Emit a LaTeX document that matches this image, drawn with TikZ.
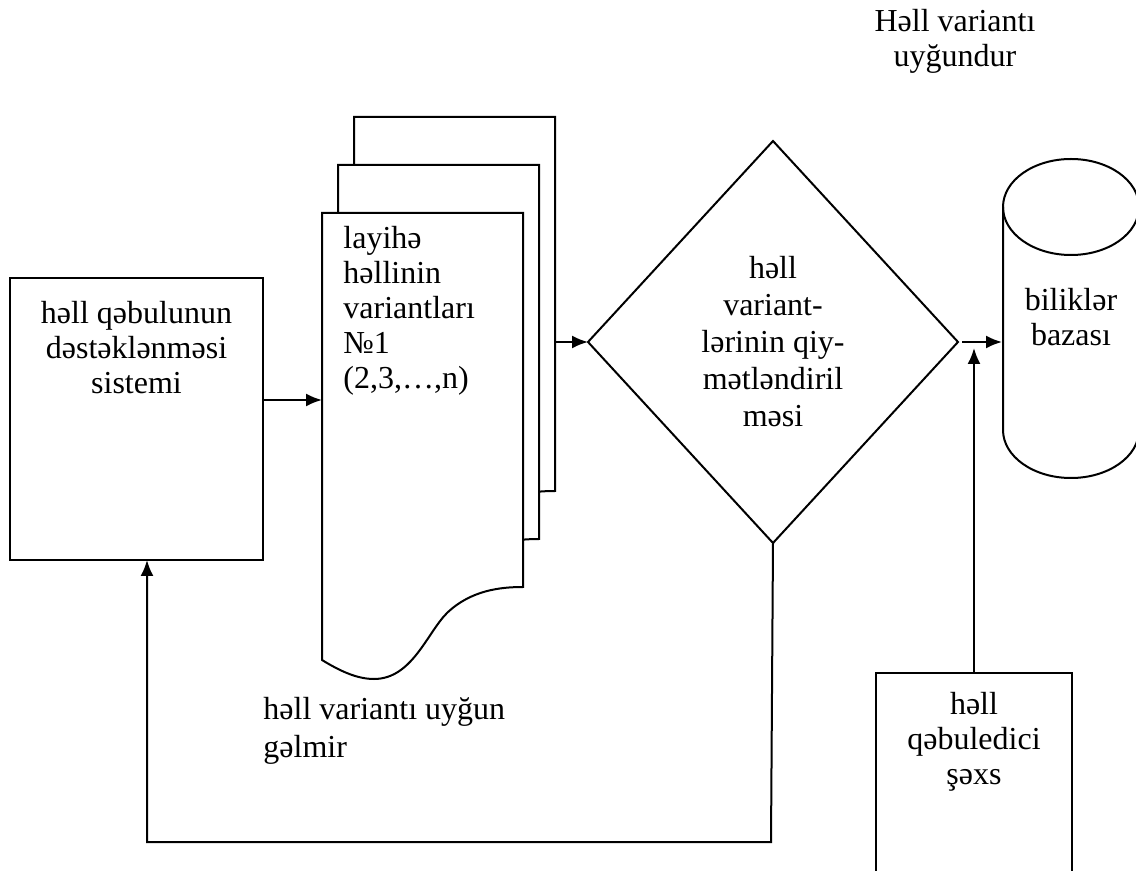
\documentclass[tikz,border=0pt]{standalone}
\usepackage{fontspec}
\setmainfont{Liberation Serif}
\usetikzlibrary{arrows.meta,positioning,shapes.geometric}

\begin{document}
\begin{tikzpicture}[x=0.5pt,y=-0.5pt,>=Latex,
    line/.style={line width=1pt},
    box/.style={draw,line width=1pt,inner sep=0pt,outer sep=0pt},
    doc/.style={line width=1pt,fill=white},
    txt/.style={font=\fontsize{16}{17.5}\selectfont,inner sep=0pt},
    arr/.style={->,line width=1pt,>={Latex[length=8pt,width=6.5pt]}}]
  \useasboundingbox (0,0) rectangle (1136,871);
  % left system box
  \node[box,minimum width=126.5pt,minimum height=141pt] (sys) at (136.5,419) {};
  \node[txt,align=center] (systxt) at (136.5,348) {həll qəbulunun\\dəstəklənməsi\\sistemi};
  % stack of documents
  \foreach \dx/\dy in {32/-96,16/-48,0/0}
    \filldraw[doc,shift={(\dx,\dy)}] (322,213) -- (523,213) -- (523,587)
      .. controls (501,587) and (471,590) .. (447,613)
      .. controls (427,633) and (412,679) .. (374,679)
      .. controls (357,679) and (340,671) .. (322,660) -- cycle;
  \node[txt,align=left,anchor=west] (doctxt) at (343,311) {layihə\\həllinin\\variantları\\№1\\(2,3,…,n)};
  \coordinate (doc-in) at (322,400);
  \coordinate (doc-out) at (556,342);
  % decision
  \node[diamond,draw,line width=1pt,minimum width=185pt,minimum height=201pt,
    inner sep=0pt,outer sep=0pt,align=center,font=\fontsize{16}{18.5}\selectfont] (dec) at (773,342)
    {həll\\variant-\\lərinin qiy-\\mətləndiril\\məsi};
  % knowledge base
  \draw[line] (1003,207) -- (1003,430) arc[start angle=180,end angle=360,x radius=34pt,y radius=24pt] -- (1139,207);
  \draw[line] (1071,207) ellipse [x radius=34pt,y radius=24pt];
  \node[txt,align=center] (kb) at (1071,317) {biliklər\\bazası};
  \coordinate (kb-in) at (1002,342);
  % decision maker
  \node[box,minimum width=98pt,minimum height=113.5pt] (dm) at (974,786.5) {};
  \node[txt,align=center] (dmtxt) at (974,742) {həll\\qəbuledici\\şəxs};
  % labels
  \node[txt,align=center] (ok) at (955,41) {Həll variantı\\uyğundur};
  \node[txt,align=left,anchor=west,font=\fontsize{16}{19}\selectfont] (notok) at (263,731) {həll variantı uyğun\\gəlmir};
  % connectors
  \draw[arr] (sys.east |- doc-in) -- (doc-in);
  \draw[arr] (doc-out) -- (dec.west);
  \draw[arr] ([xshift=2pt]dec.east) -- (kb-in);
  \draw[arr,shorten >=3pt] (dm.north) -- (dm.north |- kb-in);
  \coordinate (fb-r) at (771,842);
  \coordinate (fb-l) at (147,842);
  \draw[arr] (dec.south) -- (fb-r) -- (fb-l) -- (sys.south -| fb-l);
\end{tikzpicture}
\end{document}
